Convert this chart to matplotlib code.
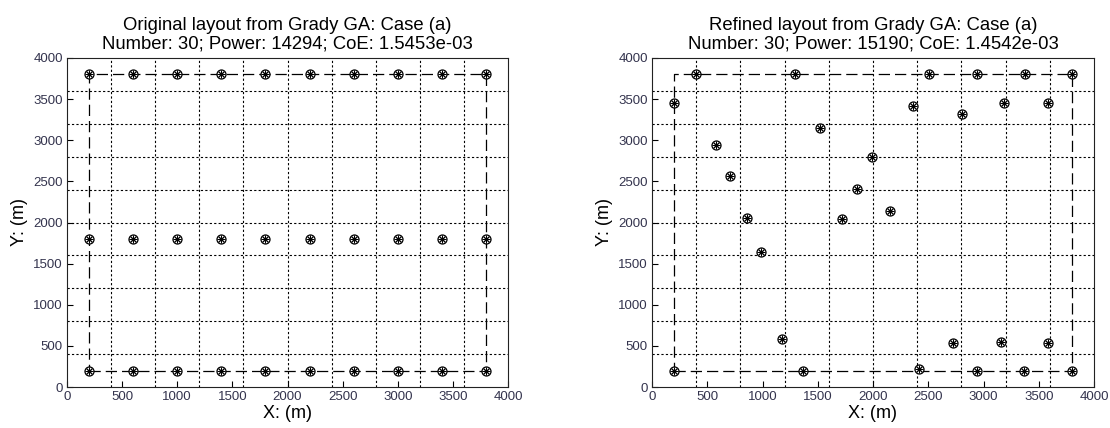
import numpy as np
import matplotlib
matplotlib.use('Agg')
import matplotlib.pyplot as plt

plt.rcParams['font.family'] = ['Liberation Sans', 'DejaVu Sans']

# original layout: 3 rows of 10 turbines
orig_x = [200, 600, 1000, 1400, 1800, 2200, 2600, 3000, 3400, 3800] * 3
orig_y = [3800] * 10 + [1800] * 10 + [200] * 10

# refined layout
ref_x = [200, 400, 1290, 2510, 2940, 3380, 3800,
         580, 710, 860, 1520, 1720, 1855, 1990, 2150, 2360, 2805, 3185, 3580,
         985, 1180, 200, 1370, 2420, 2725, 2940, 3160, 3370, 3585, 3800]
ref_y = [3450, 3800, 3800, 3800, 3800, 3800, 3800,
         2945, 2560, 2060, 3150, 2040, 2410, 2800, 2145, 3420, 3325, 3450, 3450,
         1640, 585, 200, 200, 215, 537, 200, 550, 200, 537, 200]

titles = ['Original layout from Grady GA: Case (a)\nNumber: 30; Power: 14294; CoE: 1.5453e-03',
          'Refined layout from Grady GA: Case (a)\nNumber: 30; Power: 15190; CoE: 1.4542e-03']

# boundary of the site
bx = [200, 3800, 3800, 200, 200]
by = [200, 200, 3800, 3800, 200]

grid_pos = np.arange(400, 4000, 400)
ticks = np.arange(0, 4001, 500)
tick_col = '#33334d'

fig = plt.figure(figsize=(11.1, 4.28), dpi=100)
ax1 = fig.add_axes([67/1110, 41/428, 441/1110, 329/428])
ax2 = fig.add_axes([652/1110, 41/428, 442/1110, 329/428])

for ax, xs, ys, ttl in [(ax1, orig_x, orig_y, titles[0]), (ax2, ref_x, ref_y, titles[1])]:
    for g in grid_pos:
        ax.axvline(g, color='black', lw=0.8, dashes=(2, 2), zorder=1)
        ax.axhline(g, color='black', lw=0.8, dashes=(2, 2), zorder=1)
    ax.plot(bx, by, color='black', lw=0.9, dashes=(9, 4), zorder=2)
    ax.plot(xs, ys, ls='none', marker='o', ms=6.5, mfc='white', mec='black', mew=0.9, zorder=3)
    ax.plot(xs, ys, ls='none', marker=(8, 2, 0), ms=5.5, mec='black', mew=0.7, zorder=4)
    ax.set_xlim(0, 4000)
    ax.set_ylim(0, 4000)
    ax.set_xticks(ticks)
    ax.set_yticks(ticks)
    ax.tick_params(direction='in', length=4, width=0.8, labelsize=9.5, labelcolor=tick_col,
                   top=False, right=False, pad=3)
    for s in ax.spines.values():
        s.set_linewidth(0.8)
        s.set_color('#222222')
    ax.set_title(ttl, fontsize=13.3, pad=7, linespacing=1.1)
    ax.set_xlabel('X: (m)', fontsize=13, labelpad=1)
    ax.set_ylabel('Y: (m)', fontsize=13, labelpad=4)

fig.savefig('out.png', dpi=100)
